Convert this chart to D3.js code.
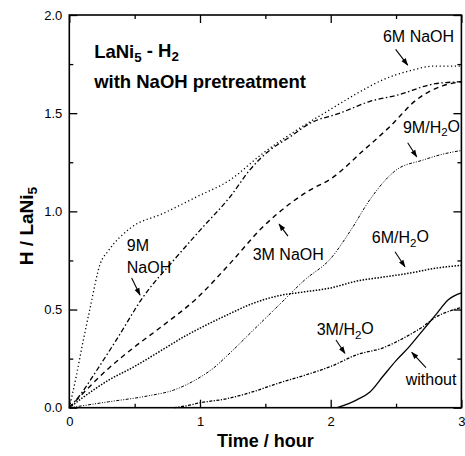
<!DOCTYPE html>
<html>
<head>
<meta charset="utf-8">
<script src="https://cdn.jsdelivr.net/npm/d3@7"></script>
<style>
  body { margin: 0; background: #fff; }
  svg { display: block; font-family: "Liberation Sans", Arial, Helvetica, sans-serif; }
</style>
</head>
<body>
<div id="chart"></div>
<script>
// time in hours, H / LaNi5
var naoh6M = [[0,0],[0.05,0.15],[0.1,0.32],[0.16,0.51],[0.235,0.73],[0.3,0.8],[0.464,0.913],[0.72,0.99],[0.975,1.074],[1.23,1.16],[1.48,1.295],[1.74,1.414],[2.0,1.52],[2.2,1.6],[2.4,1.67],[2.6,1.715],[2.8,1.74],[3.0,1.74]];
var naoh9M = [[0,0],[0.1,0.08],[0.18,0.16],[0.36,0.345],[0.566,0.565],[0.8,0.752],[1.025,0.922],[1.23,1.074],[1.38,1.21],[1.535,1.312],[1.69,1.38],[1.84,1.448],[2.07,1.5],[2.3,1.56],[2.5,1.59],[2.8,1.65],[3.0,1.66]];
var naoh3M = [[0,0],[0.1,0.07],[0.3,0.2],[0.5,0.31],[0.7,0.41],[0.975,0.557],[1.23,0.735],[1.48,0.92],[1.69,1.04],[1.84,1.108],[2.0,1.165],[2.25,1.31],[2.45,1.43],[2.66,1.57],[2.86,1.64],[3.0,1.66]];
var h2o6M = [[0,0],[0.1,0.05],[0.3,0.14],[0.5,0.21],[0.7,0.29],[0.9,0.37],[1.0,0.405],[1.2,0.47],[1.4,0.53],[1.6,0.57],[1.8,0.59],[2.0,0.61],[2.2,0.645],[2.4,0.665],[2.6,0.685],[2.8,0.71],[3.0,0.725]];
var h2o9M = [[0,0],[0.3,0.03],[0.6,0.06],[0.8,0.09],[1.0,0.155],[1.1,0.2],[1.2,0.26],[1.4,0.39],[1.6,0.52],[1.8,0.65],[2.0,0.76],[2.15,0.9],[2.3,1.06],[2.5,1.21],[2.7,1.26],[2.85,1.29],[3.0,1.31]];
var h2o3M = [[0.8,0],[0.9,0.01],[1.0,0.025],[1.2,0.045],[1.4,0.08],[1.6,0.125],[1.8,0.165],[2.0,0.21],[2.2,0.27],[2.4,0.305],[2.6,0.37],[2.7,0.41],[2.8,0.46],[2.9,0.49],[3.0,0.51]];
var without = [[2.05,0],[2.2,0.04],[2.3,0.08],[2.4,0.16],[2.5,0.24],[2.6,0.31],[2.7,0.39],[2.8,0.47],[2.9,0.55],[3.0,0.585]];

var xTicks = [0, 1, 2, 3];
var xMinor = [0.5, 1.5, 2.5];
var yTicks = [0, 0.5, 1.0, 1.5, 2.0];
var yMinor = [0.25, 0.75, 1.25, 1.75];

// label text, [t, v] of label, arrow from, arrow to
var labels = [
	["6M NaOH", [2.40, 1.864], [2.497, 1.825], [2.589, 1.745]],
	["3M NaOH", [1.403, 0.752], [1.673, 0.874], [1.605, 0.935]],
	["9M/H|2|O", [2.553, 1.399], [2.589, 1.349], [2.658, 1.278]],
	["6M/H|2|O", [2.314, 0.837], [2.492, 0.794], [2.568, 0.718]],
	["3M/H|2|O", [1.893, 0.370], [2.04, 0.345], [2.109, 0.277]],
	["without", [2.574, 0.116], [2.729, 0.204], [2.62, 0.282]]
];

var width = 465, height = 456;
var x = d3.scaleLinear().domain([0, 3]).range([69.3, 461.4]);
var y = d3.scaleLinear().domain([0, 2]).range([407.7, 15]);

var svg = d3.select("#chart").append("svg")
	.attr("width", width)
	.attr("height", height);

svg.append("defs").append("marker")
	.attr("id", "head")
	.attr("viewBox", "0 -4 10 8")
	.attr("refX", 9).attr("refY", 0)
	.attr("markerUnits", "userSpaceOnUse")
	.attr("markerWidth", 8).attr("markerHeight", 6)
	.attr("orient", "auto")
	.append("path").attr("d", "M0,-3.5L10,0L0,3.5Z").attr("fill", "#000");

var line = d3.line()
	.x(function (d) { return x(d[0]); })
	.y(function (d) { return y(d[1]); })
	.curve(d3.curveMonotoneX);

var series = [
	{ data: naoh6M, dash: "1.2,2.6", w: 1.3 },
	{ data: naoh9M, dash: "5,2.5,1.5,2.5", w: 1.3 },
	{ data: naoh3M, dash: "5,4", w: 1.4 },
	{ data: h2o6M, dash: "1.5,1.5", w: 1.5 },
	{ data: h2o9M, dash: "3,1.5,1,1.5,1,1.5", w: 1 },
	{ data: h2o3M, dash: "3,1.5,1.2,1.5", w: 1.3 },
	{ data: without, dash: null, w: 1.3 }
];

svg.selectAll("path.curve")
	.data(series).enter().append("path")
	.attr("class", "curve")
	.attr("d", function (d) { return line(d.data); })
	.attr("fill", "none")
	.attr("stroke", "#000")
	.attr("stroke-width", function (d) { return d.w; })
	.attr("stroke-dasharray", function (d) { return d.dash; });

// axes with inward ticks on all four sides
function drawAxis(axis, tx, ty) {
	var g = svg.append("g").attr("transform", "translate(" + tx + "," + ty + ")").call(axis);
	g.select(".domain").remove();
	g.selectAll(".tick line").attr("stroke", "#000").attr("stroke-width", 1.3);
	g.selectAll("text").attr("font-size", 13).attr("fill", "#000").style("font-family", "inherit");
	return g;
}

var x0 = x.range()[0], x1 = x.range()[1], y0 = y.range()[0], y1 = y.range()[1];

drawAxis(d3.axisBottom(x).tickValues(xTicks).tickSize(-8).tickPadding(9).tickFormat(d3.format("d")), 0, y0);
drawAxis(d3.axisBottom(x).tickValues(xMinor).tickSize(-4).tickFormat(""), 0, y0);
drawAxis(d3.axisTop(x).tickValues(xTicks).tickSize(-8).tickFormat(""), 0, y1);
drawAxis(d3.axisTop(x).tickValues(xMinor).tickSize(-4).tickFormat(""), 0, y1);
drawAxis(d3.axisLeft(y).tickValues(yTicks).tickSize(-8).tickPadding(7).tickFormat(d3.format(".1f")), x0, 0);
drawAxis(d3.axisLeft(y).tickValues(yMinor).tickSize(-4).tickFormat(""), x0, 0);
drawAxis(d3.axisRight(y).tickValues(yTicks).tickSize(-8).tickFormat(""), x1, 0);
drawAxis(d3.axisRight(y).tickValues(yMinor).tickSize(-4).tickFormat(""), x1, 0);

svg.append("rect")
	.attr("x", x0).attr("y", y1)
	.attr("width", x1 - x0).attr("height", y0 - y1)
	.attr("fill", "none").attr("stroke", "#000").attr("stroke-width", 1.6);

// text with subscripts written as a|2|b
function richText(sel, str) {
	str.split("|").forEach(function (part, i) {
		if (!part) return;
		sel.append("tspan")
			.attr("font-size", i % 2 ? "0.72em" : null)
			.attr("dy", i % 2 ? "0.3em" : (i > 0 ? "-0.3em" : null))
			.text(part);
	});
	return sel;
}

svg.append("text")
	.attr("transform", "translate(33,226) rotate(-90)")
	.attr("text-anchor", "middle")
	.attr("font-size", 19).attr("font-weight", "bold")
	.call(richText, "H / LaNi|5|");

svg.append("text")
	.attr("x", (x0 + x1) / 2).attr("y", 447)
	.attr("text-anchor", "middle")
	.attr("font-size", 18).attr("font-weight", "bold")
	.text("Time / hour");

svg.append("text")
	.attr("x", x(0.19)).attr("y", y(1.78))
	.attr("font-size", 18.5).attr("font-weight", "bold")
	.call(richText, "LaNi|5| - H|2|");
svg.append("text")
	.attr("x", x(0.19)).attr("y", y(1.628))
	.attr("font-size", 18.5).attr("font-weight", "bold")
	.text("with NaOH pretreatment");

svg.append("text")
	.attr("x", x(0.44)).attr("y", y(0.80))
	.attr("font-size", 16).text("9M");
svg.append("text")
	.attr("x", x(0.44)).attr("y", y(0.685))
	.attr("font-size", 16).text("NaOH");
svg.append("line")
	.attr("x1", x(0.477)).attr("y1", y(0.66))
	.attr("x2", x(0.541)).attr("y2", y(0.574))
	.attr("stroke", "#000").attr("stroke-width", 1.1)
	.attr("marker-end", "url(#head)");

var ann = svg.selectAll("g.ann").data(labels).enter().append("g").attr("class", "ann");
ann.append("text")
	.attr("x", function (d) { return x(d[1][0]); })
	.attr("y", function (d) { return y(d[1][1]); })
	.attr("font-size", 16)
	.each(function (d) { richText(d3.select(this), d[0]); });
ann.append("line")
	.attr("x1", function (d) { return x(d[2][0]); })
	.attr("y1", function (d) { return y(d[2][1]); })
	.attr("x2", function (d) { return x(d[3][0]); })
	.attr("y2", function (d) { return y(d[3][1]); })
	.attr("stroke", "#000").attr("stroke-width", 1.1)
	.attr("marker-end", "url(#head)");
</script>
</body>
</html>
